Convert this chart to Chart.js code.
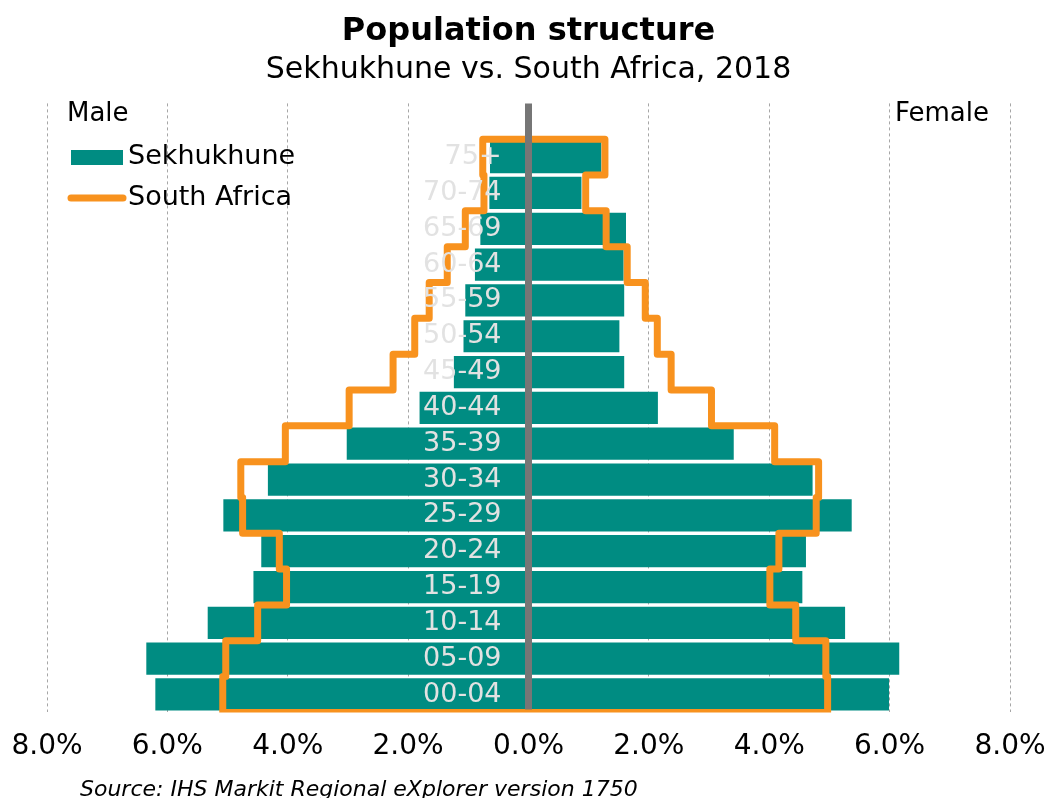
<!DOCTYPE html>
<html>
<head>
<meta charset="utf-8">
<title>Population structure</title>
<script src="https://cdn.jsdelivr.net/npm/chart.js@4/dist/chart.umd.min.js"></script>
<style>
  html, body { margin: 0; padding: 0; background: #fff; }
</style>
</head>
<body>
<canvas id="pyramid" width="1047" height="798"></canvas>
<script>
'use strict';

// age groups, oldest at the top
var ageGroups = ['75+', '70-74', '65-69', '60-64', '55-59', '50-54', '45-49', '40-44',
  '35-39', '30-34', '25-29', '20-24', '15-19', '10-14', '05-09', '00-04'];

// share of total population, %
var sekMale = [0.64, 0.65, 0.80, 0.89, 1.05, 1.08, 1.24, 1.81,
  3.02, 4.33, 5.07, 4.44, 4.57, 5.33, 6.35, 6.20];
var sekFemale = [1.21, 0.88, 1.62, 1.58, 1.59, 1.51, 1.59, 2.15,
  3.41, 4.72, 5.37, 4.61, 4.55, 5.26, 6.16, 5.99];
var saMale = [0.76, 0.74, 1.05, 1.35, 1.65, 1.89, 2.25, 2.98,
  4.04, 4.78, 4.75, 4.14, 4.02, 4.50, 5.03, 5.08];
var saFemale = [1.27, 0.95, 1.29, 1.64, 1.94, 2.14, 2.37, 3.04,
  4.09, 4.82, 4.78, 4.16, 4.01, 4.44, 4.94, 4.97];

var xTicks = [-8, -6, -4, -2, 0, 2, 4, 6, 8];

(function () {

  var teal = '#008C82';
  var orange = '#F8921E';
  var font = 'DejaVu Sans';

  // blank first row leaves room for the Male / Female headings
  var labels = [''].concat(ageGroups);
  var rows = labels.length;

  var maleBars = [null].concat(sekMale.map(function (v) { return -v; }));
  var femaleBars = [null].concat(sekFemale);

  // South Africa outline: a stepped path round both halves, one step per row
  var outline = [];
  var k;
  for (k = saMale.length - 1; k >= 0; k--) {
    outline.push({ x: -saMale[k], y: k + 1.5 });
    outline.push({ x: -saMale[k], y: k + 0.5 });
  }
  for (k = 0; k < saFemale.length; k++) {
    outline.push({ x: saFemale[k], y: k + 0.5 });
    outline.push({ x: saFemale[k], y: k + 1.5 });
  }
  outline.push(outline[0]);

  var extras = {
    id: 'extras',
    afterDatasetsDraw: function (chart) {
      var ctx = chart.ctx;
      var area = chart.chartArea;
      var xs = chart.scales.x;
      var ys = chart.scales.y;
      var zero = xs.getPixelForValue(0);

      ctx.save();

      // centre axis
      ctx.strokeStyle = '#767676';
      ctx.lineWidth = 7;
      ctx.beginPath();
      ctx.moveTo(zero, area.top);
      ctx.lineTo(zero, area.bottom - 3);
      ctx.stroke();

      // age labels inside the bars
      ctx.font = '27px "' + font + '"';
      ctx.fillStyle = '#e2e2e2';
      ctx.textAlign = 'right';
      ctx.textBaseline = 'middle';
      ageGroups.forEach(function (g, i) {
        ctx.fillText(g, zero - 27, ys.getPixelForValue(i + 1));
      });

      // headings
      ctx.fillStyle = '#000';
      ctx.textAlign = 'left';
      ctx.font = '26px "' + font + '"';
      ctx.fillText('Male', 67, 114);
      ctx.fillText('Female', 895, 114);

      // legend
      ctx.fillStyle = teal;
      ctx.fillRect(71, 150, 52, 15);
      ctx.strokeStyle = orange;
      ctx.lineWidth = 7;
      ctx.lineCap = 'round';
      ctx.beginPath();
      ctx.moveTo(71, 198);
      ctx.lineTo(123, 198);
      ctx.stroke();
      ctx.fillStyle = '#000';
      ctx.font = '27px "' + font + '"';
      ctx.fillText('Sekhukhune', 128, 157);
      ctx.fillText('South Africa', 128, 198);

      // source note
      ctx.font = 'italic 22px "' + font + '"';
      ctx.fillText('Source: IHS Markit Regional eXplorer version 1750', 80, 790);

      ctx.restore();
    }
  };

  var ctx = document.getElementById('pyramid').getContext('2d');

  return new Chart(ctx, {
    type: 'bar',
    data: {
      labels: labels,
      datasets: [{
        type: 'line',
        label: 'South Africa',
        data: outline,
        xAxisID: 'x',
        yAxisID: 'ySA',
        borderColor: orange,
        borderWidth: 7,
        borderJoinStyle: 'round',
        borderCapStyle: 'round',
        pointRadius: 0,
        tension: 0,
        fill: false,
        order: 0
      }, {
        label: 'Sekhukhune male',
        data: maleBars,
        backgroundColor: teal,
        grouped: false,
        barPercentage: 1,
        categoryPercentage: 0.9,
        order: 1
      }, {
        label: 'Sekhukhune female',
        data: femaleBars,
        backgroundColor: teal,
        grouped: false,
        barPercentage: 1,
        categoryPercentage: 0.9,
        order: 1
      }]
    },

    options: {
      indexAxis: 'y',
      responsive: false,
      animation: false,
      layout: { padding: { left: 47, right: 37, top: 0, bottom: 16 } },
      scales: {
        x: {
          type: 'linear',
          min: -8,
          max: 8,
          afterBuildTicks: function (scale) {
            scale.ticks = xTicks.map(function (v) { return { value: v }; });
          },
          afterFit: function (scale) {
            scale.paddingLeft = 0;
            scale.paddingRight = 0;
          },
          ticks: {
            callback: function (v) { return Math.abs(v).toFixed(1) + '%'; },
            font: { family: font, size: 28 },
            color: '#000',
            padding: 18,
            maxRotation: 0,
            autoSkip: false
          },
          grid: {
            drawTicks: false,
            lineWidth: 1,
            color: function (c) {
              return c.tick && c.tick.value === 0 ? 'rgba(0,0,0,0)' : '#a6a6a6';
            }
          },
          border: { display: false, dash: [3, 3] }
        },
        y: {
          type: 'category',
          display: false
        },
        ySA: {
          type: 'linear',
          display: false,
          reverse: true,
          offset: false,
          grid: { offset: false },
          min: -0.5,
          max: rows - 0.5
        }
      },
      plugins: {
        legend: { display: false },
        tooltip: { enabled: false },
        title: {
          display: true,
          text: 'Population structure',
          color: '#000',
          font: { family: font, size: 32, weight: 'bold' },
          padding: { top: 12, bottom: 0 }
        },
        subtitle: {
          display: true,
          text: 'Sekhukhune vs. South Africa, 2018',
          color: '#000',
          font: { family: font, size: 30 },
          padding: { top: 2, bottom: 15 }
        }
      }
    },
    plugins: [extras]
  });

})();
</script>
</body>
</html>
